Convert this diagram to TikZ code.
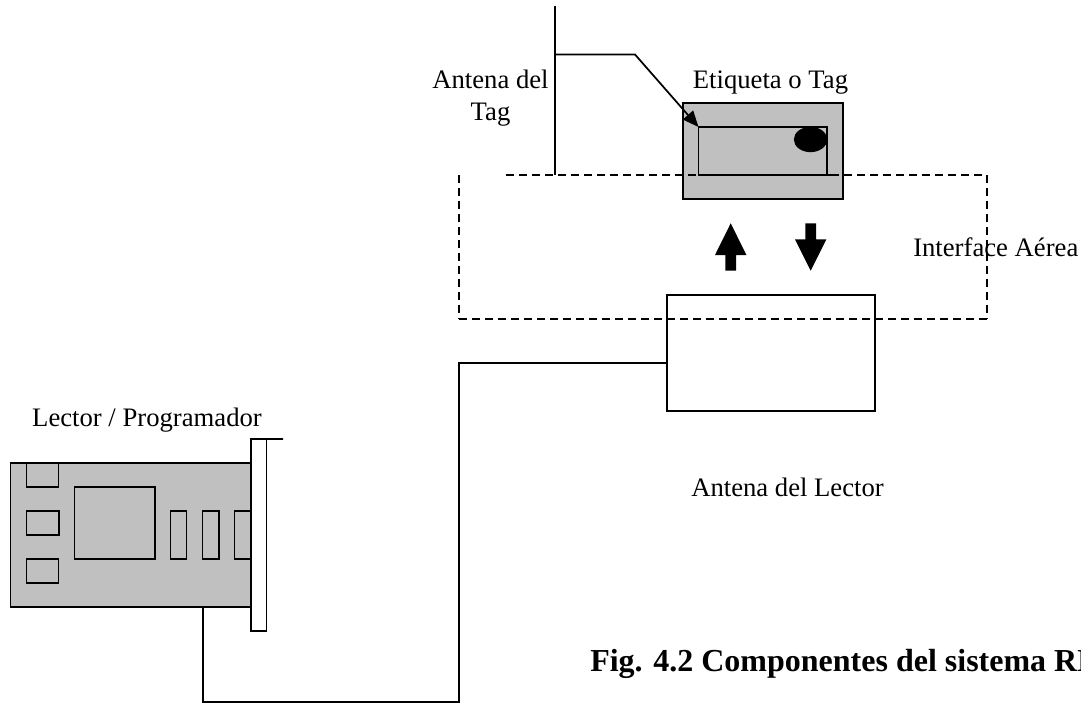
\documentclass[tikz,border=0pt]{standalone}
\usepackage{fontspec}
\setmainfont{Liberation Serif}
\usetikzlibrary{arrows.meta,shapes.geometric}
\newcommand{\pxbox}[6]{% name, style, x1, y1, x2, y2
  \pgfmathsetmacro{\bw}{(#5-#3)*0.75}\pgfmathsetmacro{\bh}{(#6-#4)*0.75}
  \node[rectbox,#2,minimum width=\bw pt,minimum height=\bh pt] (#1) at ({(#3+#5)/2},{(#4+#6)/2}) {};}
\definecolor{gray75}{HTML}{C0C0C0}
\tikzset{
  x=0.75pt,y=-0.75pt,
  ln/.style={line width=1.3pt,black},
  rectbox/.style={draw=black,line width=1.3pt,inner sep=0pt,outer sep=0pt,rectangle},
  greyfill/.style={fill=gray75},
  whitefill/.style={fill=white},
  dash line/.style={line width=1.2pt,black,dash pattern=on 6pt off 3.75pt},
  lab/.style={anchor=base,inner sep=0pt,font=\fontsize{20}{22}\selectfont},
  blockarrow/.style={fill=black,draw=none},
}
\begin{document}
\begin{tikzpicture}
\useasboundingbox (0,0) rectangle (1081,703);
\clip (0,0) rectangle (1081,703);
% tag
\pxbox{tag}{greyfill}{682.7}{103}{842.7}{199}
\pxbox{chip}{greyfill}{698.5}{127}{827}{175}
\node[ellipse,fill=black,inner sep=0pt,minimum width=25pt,minimum height=19pt] (dot) at (810.5,139.5) {};
% antenna
\coordinate (antTop) at (554.7,6); \coordinate (antBot) at (554.7,175);
\coordinate (antJ) at (554.7,54.5); \coordinate (antK) at (635,54.5);
\draw[ln] (antTop) -- (antBot);
\draw[ln,-{Triangle[length=12pt,width=10pt]}] (antJ) -- (antK) -- (chip.north west);
% block arrows
\fill[blockarrow] (730.7,223.3) -- (746.4,255) -- (736,255) -- (736,270.7) -- (725.4,270.7) -- (725.4,255) -- (715,255) -- cycle;
\fill[blockarrow] (810.7,270.7) -- (826.4,239.3) -- (816,239.3) -- (816,223.3) -- (805.4,223.3) -- (805.4,239.3) -- (795,239.3) -- cycle;
% reader antenna
\pxbox{rant}{whitefill}{666.7}{295}{875}{411}
% dashed interface
\coordinate (dA) at (506,175); \coordinate (dB) at (987,175);
\coordinate (dC) at (987,319); \coordinate (dD) at (459,319); \coordinate (dE) at (459,175);
\draw[dash line] (dA) -- (dB);
\draw[dash line] (dB) -- (dC);
\draw[dash line] (dC) -- (dD);
\draw[dash line] (dE) -- (dD);
\coordinate (chipEnd) at (835,175);
\draw[ln] (chip.south west) -- (chipEnd);
% card
\pxbox{card}{greyfill}{10.5}{462.7}{250.5}{607}
\pxbox{brk}{whitefill}{250.7}{439}{266.5}{630.7}
\coordinate (brkT) at (283,439);
\draw[ln] (brk.north east) -- (brkT);
\pxbox{c1}{}{26.5}{462.7}{58.5}{487}
\pxbox{c2}{}{26.5}{511}{59}{535}
\pxbox{c3}{}{26.5}{559}{58.5}{583}
\pxbox{big}{}{74.5}{487}{154.7}{559}
\pxbox{s1}{}{170.5}{511}{186.5}{559}
\pxbox{s2}{}{202.5}{511}{218.7}{559}
\pxbox{s3}{}{234.5}{511}{250.5}{559}
% cable
\coordinate (cA) at (666.7,363); \coordinate (cB) at (459,363); \coordinate (cC) at (459,702);
\coordinate (cD) at (202.7,702); \coordinate (cE) at (202.7,607);
\draw[ln] (cA) -- (cB) -- (cC) -- (cD) -- (cE);
% labels
\node[lab] (l1) at (490.5,88) {Antena del};
\node[lab] (l2) at (490.5,120) {Tag};
\node[lab] (l3) at (770.5,88) {Etiqueta o Tag};
\node[lab,anchor=base west] (l4) at (913,256.5) {Interface Aérea};
\node[lab] (l5) at (787.5,496.5) {Antena del Lector};
\node[lab] (l6) at (147,426) {Lector / Programador};
\node[lab,anchor=base west,font=\fontsize{24}{26}\selectfont\bfseries] (l7) at (590,671) {Fig. 4.2 Componentes del sistema RFID};
\end{tikzpicture}
\end{document}
